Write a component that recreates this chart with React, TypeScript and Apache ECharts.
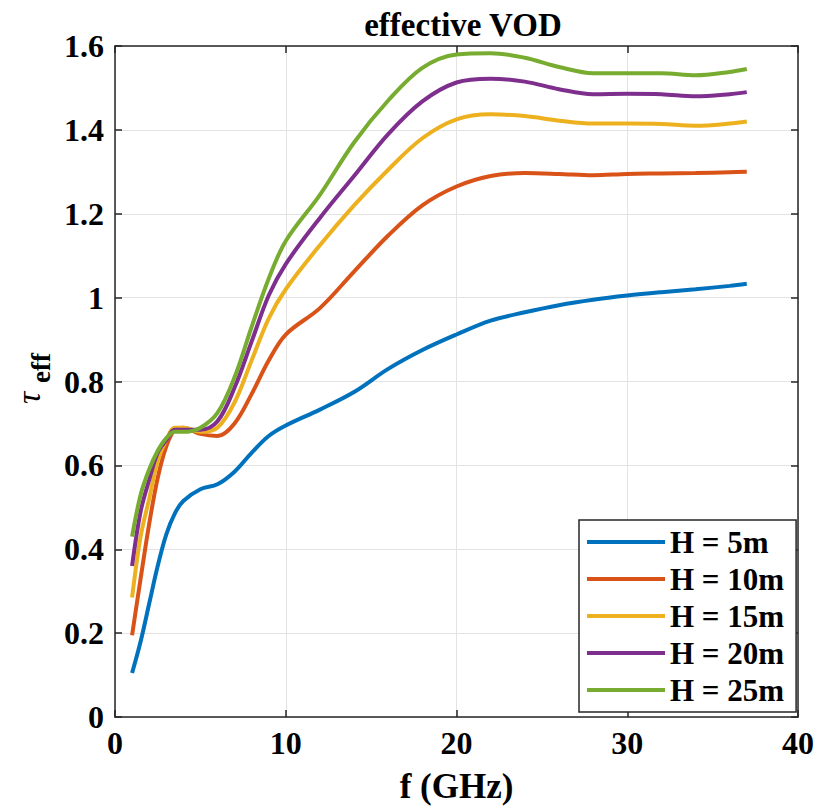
import React, { useEffect, useRef } from "react";
import * as echarts from "echarts";

const freq = [1, 1.5, 2, 2.5, 3, 3.5, 4, 5, 6, 7, 8, 9, 10, 12, 14, 16, 18, 20, 22, 24, 26, 28, 30, 32, 34, 36, 37];

const h5 = [0.105, 0.18, 0.27, 0.36, 0.435, 0.485, 0.515, 0.543, 0.555, 0.585, 0.63, 0.67, 0.695, 0.733, 0.775, 0.83, 0.875, 0.912, 0.945, 0.965, 0.982, 0.995, 1.005, 1.013, 1.02, 1.028, 1.033];
const h10 = [0.195, 0.33, 0.46, 0.57, 0.645, 0.685, 0.69, 0.675, 0.67, 0.7, 0.77, 0.85, 0.912, 0.975, 1.062, 1.148, 1.22, 1.265, 1.29, 1.297, 1.295, 1.292, 1.295, 1.296, 1.297, 1.299, 1.3];
const h15 = [0.285, 0.43, 0.52, 0.61, 0.66, 0.69, 0.69, 0.68, 0.69, 0.75, 0.85, 0.95, 1.02, 1.125, 1.22, 1.305, 1.38, 1.425, 1.437, 1.433, 1.422, 1.415, 1.415, 1.414, 1.41, 1.415, 1.42];
const h20 = [0.36, 0.49, 0.565, 0.63, 0.66, 0.685, 0.685, 0.685, 0.705, 0.785, 0.895, 1.005, 1.08, 1.19, 1.29, 1.39, 1.468, 1.513, 1.522, 1.515, 1.497, 1.485, 1.486, 1.485, 1.48, 1.485, 1.49];
const h25 = [0.43, 0.53, 0.59, 0.635, 0.665, 0.68, 0.68, 0.69, 0.725, 0.81, 0.93, 1.045, 1.135, 1.245, 1.37, 1.47, 1.548, 1.58, 1.583, 1.572, 1.55, 1.535, 1.535, 1.535, 1.53, 1.538, 1.545];

const seriesNames = ["H = 5m", "H = 10m", "H = 15m", "H = 20m", "H = 25m"];
const seriesValues = [h5, h10, h15, h20, h25];
const colors = ["#0072BD", "#D95319", "#EDB120", "#7E2F8E", "#77AC30"];

const FONT = "'Liberation Serif', 'Times New Roman', Times, serif";

export default function App() {
  const ref = useRef<HTMLDivElement>(null);
  useEffect(() => {
    const chart = echarts.init(ref.current!, null, { renderer: "svg" });
    const axisLineStyle = { color: "#262626", width: 1.5 };
    chart.setOption({
      animation: false,
      backgroundColor: "#ffffff",
      textStyle: { fontFamily: FONT },
      title: {
        text: "effective VOD",
        left: 458,
        top: 3,
        textAlign: "center",
        textStyle: { fontFamily: FONT, fontWeight: "bold", fontSize: 33, color: "#000" },
      },
      grid: { left: 115, right: 16, top: 46, bottom: 91 },
      legend: {
        orient: "vertical",
        left: 579,
        top: 520,
        padding: [6, 12, 6, 8],
        itemGap: 5,
        itemWidth: 78,
        itemHeight: 4,
        icon: "rect",
        backgroundColor: "#ffffff",
        borderColor: "#262626",
        borderWidth: 1.5,
        borderRadius: 0,
        data: seriesNames,
        textStyle: { fontFamily: FONT, fontWeight: "bold", fontSize: 31, lineHeight: 32, color: "#000" },
      },
      graphic: [
        {
          type: "text",
          x: 28,
          y: 398,
          rotation: Math.PI / 2,
          style: { text: "τ", fontFamily: FONT, fontStyle: "italic", fontSize: 34, fill: "#000", textAlign: "center", textVerticalAlign: "middle" },
        },
        {
          type: "text",
          x: 41,
          y: 368,
          rotation: Math.PI / 2,
          style: { text: "eff", fontFamily: FONT, fontWeight: "bold", fontSize: 27, fill: "#000", textAlign: "center", textVerticalAlign: "middle" },
        },
      ],
      xAxis: [
        {
          type: "value",
          min: 0,
          max: 40,
          interval: 10,
          name: "f (GHz)",
          nameLocation: "middle",
          nameGap: 52,
          nameTextStyle: { fontFamily: FONT, fontWeight: "bold", fontSize: 35, color: "#000" },
          axisLine: { show: true, onZero: false, lineStyle: axisLineStyle },
          axisTick: { show: true, inside: true, length: 7, lineStyle: axisLineStyle },
          axisLabel: { fontFamily: FONT, fontWeight: "bold", fontSize: 32, color: "#000", margin: 10 },
          splitLine: { show: true, lineStyle: { color: "#e3e3e3", width: 1 } },
        },
        {
          type: "value",
          position: "top",
          min: 0,
          max: 40,
          interval: 10,
          axisLine: { show: true, onZero: false, lineStyle: axisLineStyle },
          axisTick: { show: true, inside: true, length: 7, lineStyle: axisLineStyle },
          axisLabel: { show: false },
          splitLine: { show: false },
        },
      ],
      yAxis: [
        {
          type: "value",
          min: 0,
          max: 1.6,
          interval: 0.2,
          axisLine: { show: true, onZero: false, lineStyle: axisLineStyle },
          axisTick: { show: true, inside: true, length: 7, lineStyle: axisLineStyle },
          axisLabel: { fontFamily: FONT, fontWeight: "bold", fontSize: 32, color: "#000", margin: 11 },
          splitLine: { show: true, lineStyle: { color: "#e3e3e3", width: 1 } },
        },
        {
          type: "value",
          position: "right",
          min: 0,
          max: 1.6,
          interval: 0.2,
          axisLine: { show: true, onZero: false, lineStyle: axisLineStyle },
          axisTick: { show: true, inside: true, length: 7, lineStyle: axisLineStyle },
          axisLabel: { show: false },
          splitLine: { show: false },
        },
      ],
      series: seriesNames.map((name, i) => ({
        name,
        type: "line",
        smooth: 0.35,
        showSymbol: false,
        symbol: "none",
        color: colors[i],
        lineStyle: { width: 4, color: colors[i] },
        data: freq.map((f, j) => [f, seriesValues[i][j]]),
      })),
    });
    return () => chart.dispose();
  }, []);
  return <div ref={ref} style={{ width: 817, height: 809, position: "absolute", left: 0, top: 0 }} />;
}
